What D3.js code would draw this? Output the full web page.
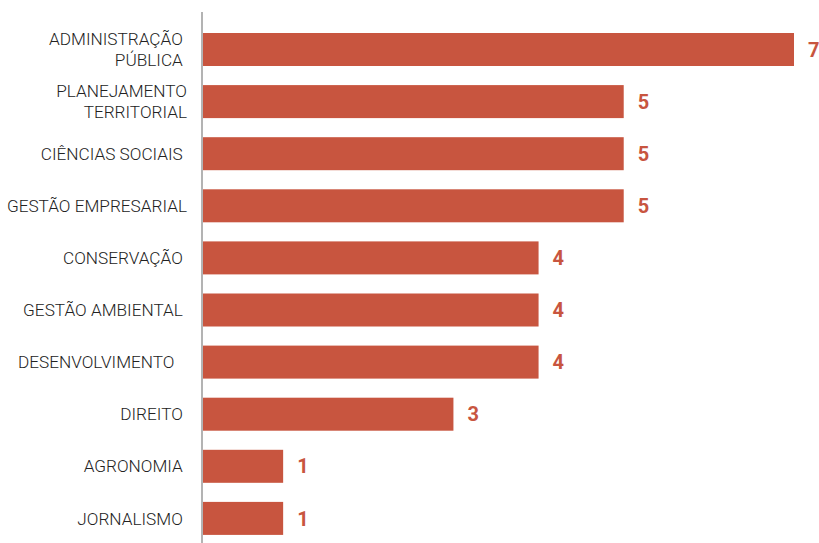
<!DOCTYPE html>
<html><head><meta charset="utf-8">
<script src="https://cdn.jsdelivr.net/npm/d3@7"></script>
<style>
html,body{margin:0;padding:0;background:#fff;}
svg{display:block;}
text{white-space:pre;}
</style></head>
<body><svg id="c" width="819" height="543"></svg>
<script>
const categories = [
  ["ADMINISTRAÇÃO ", "PÚBLICA "],
  ["PLANEJAMENTO", "TERRITORIAL"],
  ["CIÊNCIAS SOCIAIS "],
  ["GESTÃO EMPRESARIAL"],
  ["CONSERVAÇÃO "],
  ["GESTÃO AMBIENTAL "],
  ["DESENVOLVIMENTO   "],
  ["DIREITO "],
  ["AGRONOMIA "],
  ["JORNALISMO "]
];
const values = [7, 5, 5, 5, 4, 4, 4, 3, 1, 1];
const keys = categories.map((c, i) => i);

const svg = d3.select("#c");
const axisX = 202;
const x = d3.scaleLinear().domain([0, 7]).range([198, 794]);
const y = d3.scaleBand().domain(keys).range([6.95, 560.95]).paddingInner(0.3666).paddingOuter(0.5);
const barColor = "#C8553F";

svg.append("g").selectAll("rect").data(values).join("rect")
  .attr("x", axisX + 1)
  .attr("y", (d, i) => y(i))
  .attr("width", d => x(d) - (axisX + 1))
  .attr("height", y.bandwidth())
  .attr("fill", barColor);

svg.append("line")
  .attr("x1", axisX).attr("x2", axisX)
  .attr("y1", 12).attr("y2", 543)
  .attr("stroke", "#8a8a8a").attr("stroke-width", 1.3);

svg.append("g").selectAll("text").data(values).join("text")
  .attr("x", d => x(d) + 14)
  .attr("y", (d, i) => y(i) + y.bandwidth() / 2)
  .attr("dy", "0.36em")
  .attr("font-family", "Roboto, 'Open Sans', sans-serif")
  .attr("font-weight", "bold")
  .attr("font-size", 20)
  .attr("fill", barColor)
  .text(d => d);

const lab = svg.append("g");
categories.forEach((lines, i) => {
  const cy = y(i) + y.bandwidth() / 2;
  const lh = 21;
  lines.forEach((t, j) => {
    lab.append("text")
      .attr("x", 187)
      .attr("y", cy + (j - (lines.length - 1) / 2) * lh)
      .attr("dy", "0.36em")
      .attr("text-anchor", "end")
      .attr("font-family", "Roboto, sans-serif")
      .attr("font-weight", 300)
      .attr("font-size", 17.2)
      .attr("fill", "#222")
      .text(t);
  });
});
</script></body></html>
